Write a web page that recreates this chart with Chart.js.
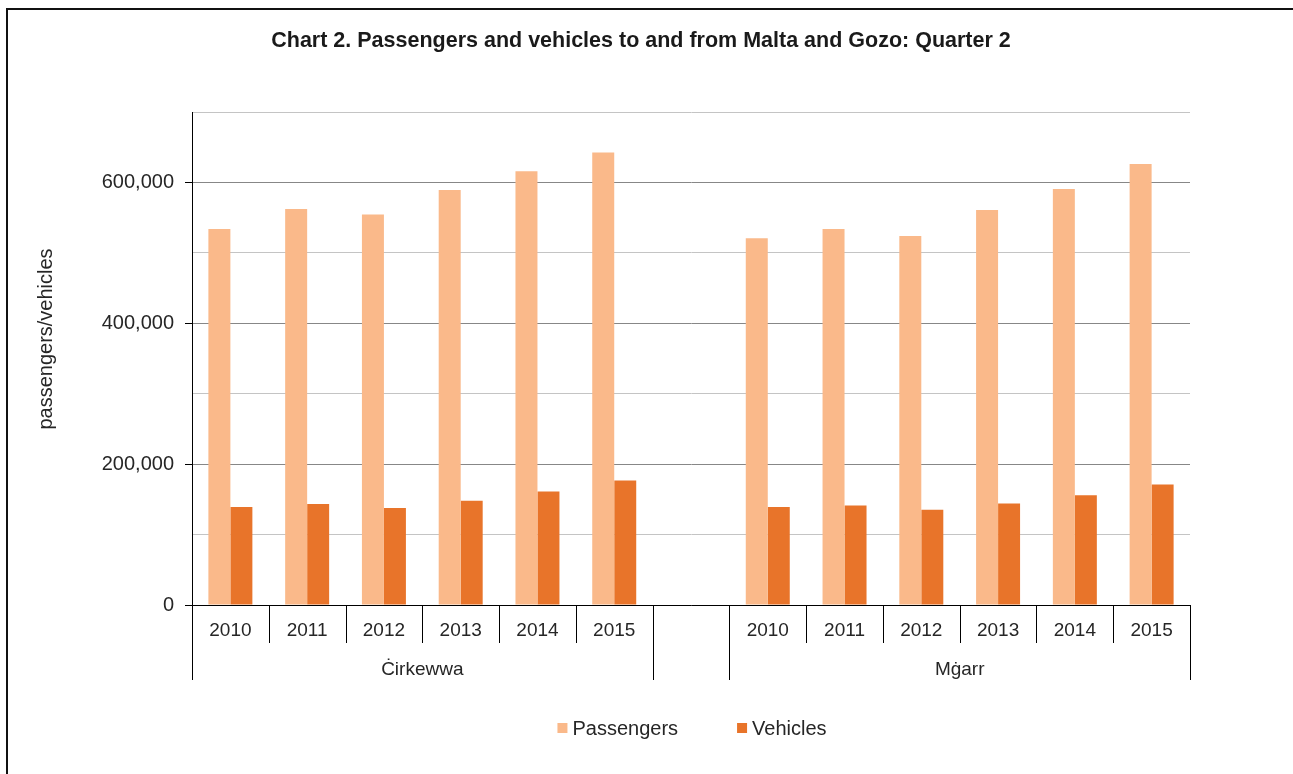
<!DOCTYPE html>
<html>
<head>
<meta charset="utf-8">
<title>Passengers and vehicles - Quarter 2</title>
<script src="https://cdn.jsdelivr.net/npm/chart.js@4.4.1/dist/chart.umd.min.js"></script>
<style>
  body { margin: 0; background: #fff; overflow: hidden; }
  #wrap { position: relative; width: 1293px; height: 774px; }
  #frame { position: absolute; left: 6px; top: 8px; right: -10px; bottom: -10px; border-left: 2px solid #111; border-top: 2px solid #111; }
  #chart { position: absolute; left: 0; top: 0; }
</style>
</head>
<body>
<div id="wrap">
  <div id="frame"></div>
  <canvas id="chart" width="1293" height="774"></canvas>
</div>
<script>
const chartTitle = 'Chart 2. Passengers and vehicles to and from Malta and Gozo: Quarter 2';
const yTitle = 'passengers/vehicles';
const years = ['2010', '2011', '2012', '2013', '2014', '2015'];
const ports = ['Ċirkewwa', 'Mġarr'];
const seriesNames = ['Passengers', 'Vehicles'];

// values
const passengersCirkewwa = [533800, 562100, 554600, 589100, 616000, 642500];
const passengersMgarr = [520800, 533800, 523800, 560700, 590500, 626000];
const vehiclesCirkewwa = [139000, 143300, 137600, 147900, 161100, 176700];
const vehiclesMgarr = [139000, 141300, 135200, 144100, 156000, 171100];

const yTicks = [0, 200000, 400000, 600000];

const FONT = '"Liberation Sans", Arial, sans-serif';
const TEXT = '#262626';
const colors = ['#FAB98A', '#E8742A'];

// one empty slot between the two ports
const labels = [...years, '', ...years];
const passengers = [...passengersCirkewwa, null, ...passengersMgarr];
const vehicles = [...vehiclesCirkewwa, null, ...vehiclesMgarr];
// which category indexes belong to each port
const groups = [
  { name: ports[0], from: 0, to: years.length - 1 },
  { name: ports[1], from: years.length + 1, to: years.length * 2 }
];

// draws title, axis title, two-level x labels and the legend
const extras = {
  id: 'extras',
  afterDraw(chart) {
    const ctx = chart.ctx;
    const x = chart.scales.x;
    const area = chart.chartArea;
    const n = chart.data.labels.length;
    const step = (x.right - x.left) / n;
    ctx.save();

    // title
    ctx.fillStyle = '#1a1a1a';
    ctx.font = 'bold 21.5px ' + FONT;
    ctx.textAlign = 'center';
    ctx.textBaseline = 'alphabetic';
    ctx.fillText(chartTitle, 641, 47);

    // y axis title
    ctx.save();
    ctx.translate(52, 339);
    ctx.rotate(-Math.PI / 2);
    ctx.fillStyle = TEXT;
    ctx.font = '20px ' + FONT;
    ctx.fillText(yTitle, 0, 0);
    ctx.restore();

    // separators between categories
    const edges = new Set();
    groups.forEach(g => { edges.add(g.from); edges.add(g.to + 1); });
    ctx.strokeStyle = '#000';
    ctx.lineWidth = 1;
    for (let i = 0; i <= n; i++) {
      const px = Math.round(x.getPixelForValue(i) - step / 2) + 0.5;
      const isEdge = edges.has(i);
      ctx.beginPath();
      ctx.moveTo(px, area.bottom);
      ctx.lineTo(px, area.bottom + (isEdge ? 75 : 38));
      ctx.stroke();
    }

    // port names under the years
    ctx.fillStyle = TEXT;
    ctx.font = '19px ' + FONT;
    groups.forEach(g => {
      const cx = (x.getPixelForValue(g.from) + x.getPixelForValue(g.to)) / 2;
      ctx.fillText(g.name, cx, area.bottom + 70);
    });

    // legend
    ctx.font = '20px ' + FONT;
    ctx.textAlign = 'left';
    ctx.textBaseline = 'middle';
    const items = chart.data.datasets.map(d => ({ text: d.label, color: d.backgroundColor, w: ctx.measureText(d.label).width }));
    const gap = 59;
    const total = items.reduce((s, it) => s + 15 + it.w, 0) + gap * (items.length - 1);
    let lx = 692 - total / 2;
    items.forEach(it => {
      ctx.fillStyle = it.color;
      ctx.fillRect(lx, 723, 10, 10);
      ctx.fillStyle = TEXT;
      ctx.fillText(it.text, lx + 15, 729);
      lx += 15 + it.w + gap;
    });

    ctx.restore();
  }
};

new Chart(document.getElementById('chart'), {
  type: 'bar',
  data: {
    labels: labels,
    datasets: [
      { label: seriesNames[0], data: passengers, backgroundColor: colors[0] },
      { label: seriesNames[1], data: vehicles, backgroundColor: colors[1] }
    ]
  },
  options: {
    responsive: false,
    animation: false,
    layout: { padding: { top: 112, right: 103, bottom: 0, left: 0 } },
    datasets: { bar: { categoryPercentage: 0.573, barPercentage: 1 } },
    plugins: {
      legend: { display: false },
      title: { display: false },
      tooltip: { enabled: false }
    },
    scales: {
      x: {
        afterFit: s => { s.height = 169; },
        grid: { display: false, drawTicks: false },
        border: { display: true, color: '#000', width: 1 },
        ticks: { color: TEXT, font: { family: FONT, size: 19 }, padding: 14, maxRotation: 0, autoSkip: false }
      },
      y: {
        min: 0,
        max: 700000,
        afterFit: s => { s.width = 192; },
        border: { display: true, color: '#000', width: 1 },
        grid: {
          color: c => (c.tick.value % 200000 === 0 ? '#878787' : '#c4c4c4'),
          tickColor: c => (c.tick.value % 200000 === 0 ? '#000' : 'rgba(0,0,0,0)'),
          tickLength: 7,
          lineWidth: 1
        },
        ticks: {
          stepSize: 100000,
          color: TEXT,
          padding: 11,
          font: { family: FONT, size: 20 },
          callback: v => (yTicks.includes(v) ? v.toLocaleString('en-US') : '')
        }
      }
    }
  },
  plugins: [extras]
});
</script>
</body>
</html>
